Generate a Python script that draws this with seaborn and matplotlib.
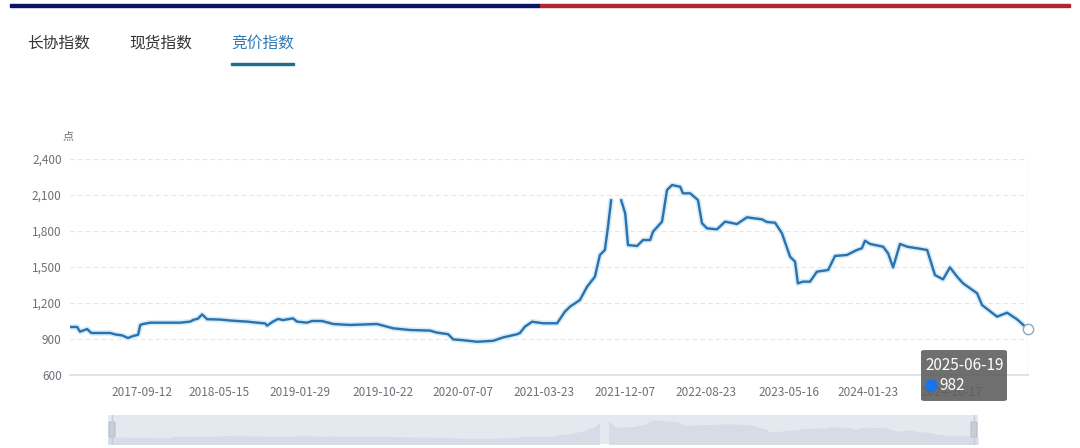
import pandas as pd
import numpy as np
import seaborn as sns
import matplotlib.pyplot as plt
import matplotlib.patheffects as pe
from matplotlib.patches import FancyBboxPatch, Rectangle
from matplotlib.lines import Line2D
from matplotlib.ticker import FuncFormatter

# 竞价指数
dates = ['2017-01-24', '2017-02-16', '2017-02-25', '2017-03-20', '2017-04-02', '2017-06-02',
         '2017-06-18', '2017-07-10', '2017-07-29', '2017-08-14', '2017-08-30', '2017-09-06',
         '2017-09-15', '2017-10-08', '2018-01-12', '2018-02-13', '2018-02-22', '2018-03-10',
         '2018-03-23', '2018-04-08', '2018-05-20', '2018-06-30', '2018-08-14', '2018-09-15',
         '2018-10-11', '2018-10-17', '2018-11-05', '2018-11-21', '2018-12-07', '2019-01-08',
         '2019-01-21', '2019-02-22', '2019-03-10', '2019-04-11', '2019-05-17', '2019-07-10',
         '2019-08-11', '2019-10-04', '2019-11-25', '2020-01-18', '2020-03-22', '2020-04-14',
         '2020-05-19', '2020-06-04', '2020-07-06', '2020-08-20', '2020-10-10', '2020-11-11',
         '2020-12-26', '2021-01-04', '2021-01-20', '2021-02-12', '2021-03-19', '2021-05-03',
         '2021-05-28', '2021-06-13', '2021-07-15', '2021-08-07', '2021-09-01', '2021-09-17',
         '2021-10-03', '2021-10-13', '2021-10-23',
         '2021-11-24', '2021-12-07', '2021-12-16', '2022-01-14', '2022-02-02', '2022-02-25',
         '2022-03-06', '2022-04-04', '2022-04-20', '2022-05-06', '2022-06-01', '2022-06-10',
         '2022-07-03', '2022-07-28', '2022-08-10', '2022-08-26', '2022-09-27', '2022-10-23',
         '2022-11-30', '2023-01-01', '2023-02-18', '2023-03-06', '2023-04-01', '2023-04-23',
         '2023-05-19', '2023-06-04', '2023-06-13', '2023-06-29', '2023-07-22', '2023-08-13',
         '2023-09-18', '2023-10-10', '2023-11-17', '2023-12-19', '2024-01-04', '2024-01-14',
         '2024-01-30', '2024-03-12', '2024-03-28', '2024-04-13', '2024-05-05', '2024-05-28',
         '2024-06-29', '2024-07-31', '2024-08-25', '2024-09-20', '2024-10-12', '2024-11-04',
         '2024-11-23', '2025-01-07', '2025-01-23', '2025-03-12', '2025-04-13', '2025-05-15',
         '2025-06-19']
values = [1000, 1000, 961, 983, 950, 950,
          938, 930, 908, 925, 935, 1017,
          1025, 1036, 1036, 1045, 1058, 1070,
          1105, 1065, 1062, 1052, 1045, 1036,
          1030, 1011, 1045, 1067, 1058, 1072,
          1045, 1036, 1050, 1050, 1025, 1017,
          1020, 1025, 989, 975, 970, 953,
          940, 897, 890, 877, 885, 913,
          940, 950, 1003, 1044, 1031, 1031,
          1128, 1169, 1225, 1336, 1419, 1600,
          1642, 1836, 2058,
          2058, 1947, 1683, 1675, 1725, 1725,
          1794, 1878, 2142, 2183, 2169, 2114,
          2114, 2058, 1864, 1822, 1814, 1878,
          1858, 1914, 1897, 1875, 1869, 1781,
          1586, 1544, 1364, 1378, 1378, 1461,
          1475, 1592, 1600, 1642, 1656, 1719,
          1692, 1669, 1614, 1497, 1692, 1669,
          1656, 1642, 1433, 1397, 1497, 1419,
          1364, 1281, 1183, 1086, 1119, 1064,
          982]
gap_after = '2021-10-23'   # 数据断开处

tabs = ['长协指数', '现货指数', '竞价指数']
tick_dates = ['2017-09-12', '2018-05-15', '2019-01-29', '2019-10-22', '2020-07-07', '2021-03-23',
              '2021-12-07', '2022-08-23', '2023-05-16', '2024-01-23', '2024-10-17']
y_ticks = [600, 900, 1200, 1500, 1800, 2100, 2400]
last_date = '2025-06-19'
last_value = 982

sns.set_theme(style='white')
plt.rcParams['font.family'] = ['Noto Sans CJK SC', 'DejaVu Sans']

df = pd.DataFrame({'date': pd.to_datetime(dates), 'value': values})
df['seg'] = (df['date'] > pd.Timestamp(gap_after)).astype(int)

W, H = 1080, 448
fig = plt.figure(figsize=(W / 100, H / 100), dpi=100)


def box(x0, y0, x1, y1):
    # 像素 -> figure 比例
    return [x0 / W, 1 - y1 / H, (x1 - x0) / W, (y1 - y0) / H]


# 主图
ax = fig.add_axes(box(70, 159, 1028, 375))
sns.lineplot(data=df, x='date', y='value', units='seg', estimator=None,
             color='#2a71ad', linewidth=1.7, ax=ax)
for ln in ax.lines:
    ln.set_path_effects([pe.Stroke(linewidth=4, foreground='#d6ecf8'), pe.Normal()])

ax.set_xlim(df['date'].min(), pd.Timestamp(last_date))
ax.set_ylim(600, 2400)
ax.set_yticks(y_ticks)
ax.yaxis.set_major_formatter(FuncFormatter(lambda v, p: f'{int(v):,}'))
ax.set_xticks(pd.to_datetime(tick_dates))
ax.set_xticklabels(tick_dates)
ax.grid(axis='y', linestyle=(0, (4, 3)), color='#e3e6ec', linewidth=0.8)
ax.grid(axis='x', visible=False)
for s in ['top', 'right', 'left']:
    ax.spines[s].set_visible(False)
ax.spines['bottom'].set_color('#dcdfe5')
ax.tick_params(length=0, labelsize=8.5, colors='#6e7079')
ax.tick_params(axis='x', pad=8)
ax.tick_params(axis='y', pad=6)
ax.set_xlabel('')
ax.set_ylabel('')

ax.axvline(pd.Timestamp(last_date), color='#b0b0b0', linewidth=0.8)
ax.scatter([pd.Timestamp(last_date)], [last_value], s=55, facecolor='white',
           edgecolor='#8ea8bf', linewidth=1, zorder=5, clip_on=False)

fig.text(68 / W, 1 - 137 / H, '点', fontsize=8, color='#6e7079', ha='center', va='center')

# 顶部色条
fig.add_artist(Rectangle((10 / W, 1 - 7 / H), 530 / W, 3 / H, color='#0b1464',
                         transform=fig.transFigure))
fig.add_artist(Rectangle((540 / W, 1 - 7 / H), 530 / W, 3 / H, color='#b0282e',
                         transform=fig.transFigure))

# 标签页
tab_x = [59, 161, 263]
for t, xx in zip(tabs, tab_x):
    c = '#2b7bb9' if t == '竞价指数' else '#333333'
    fig.text(xx / W, 1 - 43 / H, t, fontsize=11.3, color=c, ha='center', va='center')
fig.add_artist(Rectangle((231 / W, 1 - 65 / H), 63 / W, 2 / H, color='#1f6e8c',
                         transform=fig.transFigure))

# 底部缩放条
ax2 = fig.add_axes(box(108, 415, 978, 444))
ax2.set_facecolor('#e4e9f0')
for _, g in df.groupby('seg'):
    ax2.fill_between(g['date'], 0, g['value'], color='#d5dce5', linewidth=0)
ax2.set_xlim(df['date'].min(), pd.Timestamp(last_date))
ax2.set_ylim(480, 2550)
ax2.set_xticks([])
ax2.set_yticks([])
for s in ax2.spines.values():
    s.set_visible(False)
for hx in [112, 974]:
    fig.add_artist(Line2D([hx / W, hx / W], [1 - 415 / H, 1 - 444 / H], color='#c4ccd6',
                          linewidth=1, transform=fig.transFigure))
    fig.add_artist(FancyBboxPatch(((hx - 3) / W, 1 - 437 / H), 6 / W, 15 / H,
                                  boxstyle='round,pad=0,rounding_size=0.002',
                                  fc='#c8d0da', ec='#aab4c0', linewidth=0.6,
                                  transform=fig.transFigure))

# 提示框
tip = FancyBboxPatch((921 / W, 1 - 401 / H), 86 / W, 51 / H,
                     boxstyle='round,pad=0,rounding_size=0.004',
                     fc='#5f5f5f', ec='none', alpha=0.9, transform=fig.transFigure, zorder=10)
fig.add_artist(tip)
fig.text(925 / W, 1 - 365 / H, last_date, fontsize=11, color='white', ha='left', va='center',
         zorder=11)
fig.add_artist(Line2D([931 / W], [1 - 385 / H], marker='o', markersize=8, color='#1a73e8',
                      transform=fig.transFigure, zorder=11))
fig.text(939 / W, 1 - 385 / H, str(last_value), fontsize=11, color='white', ha='left',
         va='center', zorder=11)

plt.savefig('out.png', dpi=100)
